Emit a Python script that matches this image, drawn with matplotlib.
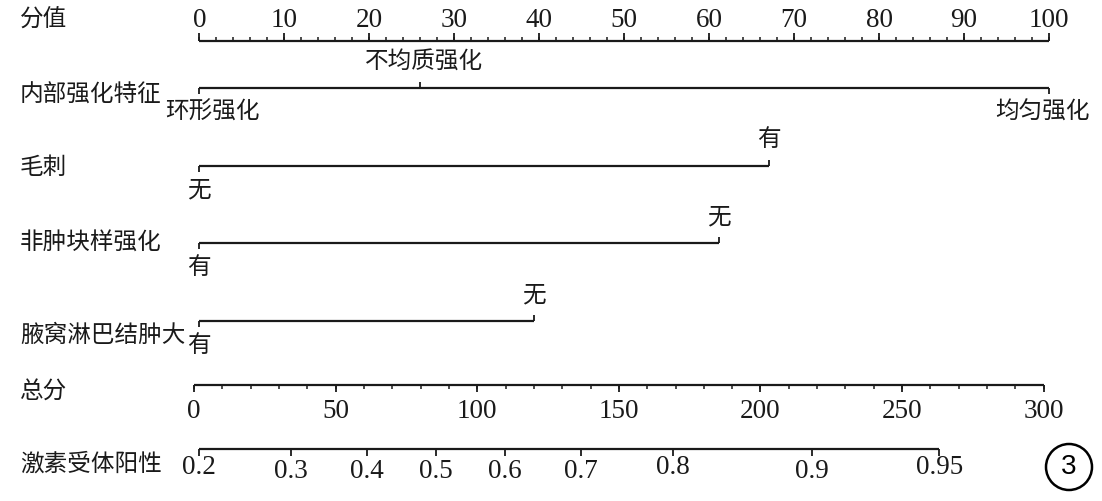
import matplotlib

matplotlib.use("Agg")
import matplotlib.pyplot as plt  # noqa: E402
import numpy as np  # noqa: E402

CJK = ["Noto Sans CJK SC", "DejaVu Sans"]
NUM = "Liberation Serif"
INK = "#1a1a1a"

# --- data ----------------------------------------------------------------
point_major = np.arange(0, 101, 10)
point_minor = np.arange(0, 101, 2)

enh_levels = ["环形强化", "不均质强化", "均匀强化"]
enh_points = [0, 26, 100]
spic_levels = ["无", "有"]
spic_points = [0, 67]
nonmass_levels = ["有", "无"]
nonmass_points = [0, 61.2]
axil_levels = ["有", "无"]
axil_points = [0, 39.4]

total_major = np.arange(0, 301, 50)
total_minor = np.arange(0, 301, 10)

prob_ticks = [0.2, 0.3, 0.4, 0.5, 0.6, 0.7, 0.8, 0.9, 0.95]
prob_total = [1.9, 34.3, 61.0, 85.4, 109.8, 136.7, 169.1, 218.1, 263.2]

row_names = ["分值", "内部强化特征", "毛刺", "非肿块样强化",
             "腋窝淋巴结肿大", "总分", "激素受体阳性"]

# --- layout (y in pixels from top) ----------------------------------------
Y_POINTS = 41
Y_ROWS = [88, 166, 243, 321]
Y_TOTAL = 385
Y_PROB = 449
ROW_LABEL_Y = [20, 95, 167, 243, 335, 392, 464]
TOT_OFFSET = -0.62  # total axis starts a few px left of the points axis
CJK_SIZE = 17
NUM_SIZE = 19.5


def tot_x(t):
    return TOT_OFFSET + np.asarray(t, dtype=float) / 3.0


fig = plt.figure(figsize=(11.02, 5.01), dpi=100)
ax = fig.add_axes([0, 0, 1, 1])
ax.set_xlim(-23.455, 106.24)
ax.set_ylim(501, 0)
ax.axis("off")

lw = 1.6
# row titles
for name, y in zip(row_names, ROW_LABEL_Y):
    ax.text(-21.1, y, name, family=CJK, fontsize=CJK_SIZE, color=INK,
            ha="left", va="center")

# points axis: ticks up, labels above
ax.hlines(Y_POINTS, point_major[0], point_major[-1], color=INK, lw=lw)
ax.vlines(point_minor, Y_POINTS - 4, Y_POINTS, color=INK, lw=1.1)
ax.vlines(point_major, Y_POINTS - 8, Y_POINTS, color=INK, lw=1.3)
for v in point_major:
    ax.text(v, 20, f"{v}", family=NUM, fontsize=NUM_SIZE, color=INK,
            ha="center", va="center")


def cat_row(y, levels, pts, label_dx=None):
    ax.hlines(y, min(pts), max(pts), color=INK, lw=lw)
    for i, (lvl, p) in enumerate(zip(levels, pts)):
        # first and last level labelled below, middle level above;
        # for two-level rows the second (higher) level goes above
        below = (i != 1) if len(levels) == 3 else (i == 0)
        dy = 6 if below else -6
        ax.vlines(p, y, y + dy, color=INK, lw=1.3)
        ty = y + 24 if below else y - 26
        dx = label_dx[i] if label_dx else 0
        ax.annotate(lvl, (p, ty), xytext=(dx, 0), textcoords="offset pixels",
                    family=CJK, fontsize=CJK_SIZE, color=INK,
                    ha="center", va="center")


cat_row(Y_ROWS[0], enh_levels, enh_points, label_dx=[13, 4, -7])
cat_row(Y_ROWS[1], spic_levels, spic_points)
cat_row(Y_ROWS[2], nonmass_levels, nonmass_points)
cat_row(Y_ROWS[3], axil_levels, axil_points)

# total points axis: ticks down, labels below
ax.hlines(Y_TOTAL, tot_x(total_major[0]), tot_x(total_major[-1]), color=INK, lw=lw)
ax.vlines(tot_x(total_minor), Y_TOTAL, Y_TOTAL + 4, color=INK, lw=1.1)
ax.vlines(tot_x(total_major), Y_TOTAL, Y_TOTAL + 7, color=INK, lw=1.3)
for v in total_major:
    ax.text(tot_x(v), 411, f"{v}", family=NUM, fontsize=NUM_SIZE, color=INK,
            ha="center", va="center")

# probability axis
px = tot_x(prob_total)
ax.hlines(Y_PROB, px[0], px[-1], color=INK, lw=lw)
ax.vlines(px, Y_PROB, Y_PROB + 7, color=INK, lw=1.3)
prob_label_y = [468, 472, 471, 471, 472, 471, 467, 471, 467]
for v, x, y in zip(prob_ticks, px, prob_label_y):
    ax.text(x, y, f"{v:g}", family=NUM, fontsize=NUM_SIZE, color=INK,
            ha="center", va="center")

# panel marker
fig.text(1069 / 1102, 1 - 467 / 501, "3", family="Liberation Sans",
         fontsize=20, color="black", ha="center", va="center",
         bbox=dict(boxstyle="circle,pad=0.36", fc="white", ec="black", lw=1.8))

fig.savefig("out.png", dpi=100, facecolor="white")
